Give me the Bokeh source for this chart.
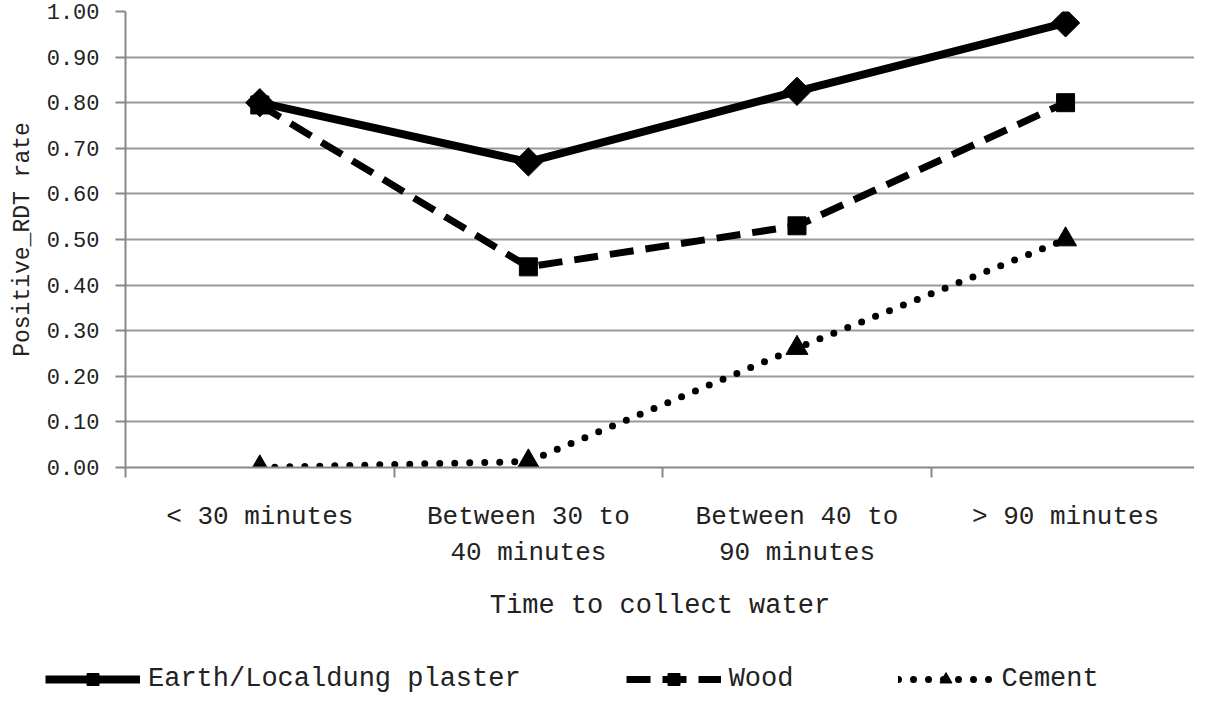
from bokeh.plotting import figure
from bokeh.models import Range1d, FixedTicker, Legend, LegendItem, NumeralTickFormatter
from bokeh.layouts import column
from bokeh.embed import file_html
from bokeh.resources import INLINE

categories = ["< 30 minutes", "Between 30 to\n40 minutes", "Between 40 to\n90 minutes", "> 90 minutes"]
earth = [0.80, 0.67, 0.825, 0.975]
wood = [0.795, 0.44, 0.53, 0.80]
cement = [0.00, 0.013, 0.262, 0.50]
series_names = ["Earth/Localdung plaster", "Wood", "Cement"]
y_ticks = [0.0, 0.1, 0.2, 0.3, 0.4, 0.5, 0.6, 0.7, 0.8, 0.9, 1.0]

FONT = "Liberation Mono"
xs = list(range(len(categories)))

W = 1194
H_MAIN = 636
H_LEG = 60
TOP = 11
LEFT = 125
BOTTOM = 169

p = figure(width=W, height=H_MAIN, output_backend="svg", toolbar_location=None,
           x_range=Range1d(-0.5, 3.48), y_range=Range1d(0, 1.0),
           min_border_top=TOP, min_border_left=LEFT, min_border_right=0,
           min_border_bottom=BOTTOM)
p.frame_align = False
p.outline_line_color = None
p.background_fill_color = "white"
p.border_fill_color = "white"

# grid
p.xgrid.grid_line_color = None
p.ygrid.grid_line_color = "#999999"
p.ygrid.grid_line_width = 2
p.ygrid.ticker = FixedTicker(ticks=y_ticks)

# y axis
p.yaxis.ticker = FixedTicker(ticks=y_ticks)
p.yaxis.formatter = NumeralTickFormatter(format="0.00")
p.yaxis.axis_line_color = "#888888"
p.yaxis.axis_line_width = 2
p.yaxis.major_tick_line_color = "#888888"
p.yaxis.major_tick_line_width = 2
p.yaxis.major_tick_out = 10
p.yaxis.major_tick_in = 0
p.yaxis.minor_tick_line_color = None
p.yaxis.major_label_text_font = FONT
p.yaxis.major_label_text_font_size = "22px"
p.yaxis.major_label_text_color = "#222222"
p.yaxis.major_label_standoff = 16
p.yaxis.axis_label = "Positive_RDT rate"
p.yaxis.axis_label_text_font = FONT
p.yaxis.axis_label_text_font_size = "23px"
p.yaxis.axis_label_text_font_style = "normal"
p.yaxis.axis_label_text_color = "#222222"
p.yaxis.axis_label_standoff = 8

# x axis
p.xaxis.ticker = FixedTicker(ticks=xs, minor_ticks=[-0.5, 0.5, 1.5, 2.5, 3.5])
p.xaxis.major_label_overrides = {i: c for i, c in zip(xs, categories)}
p.xaxis.axis_line_color = "#888888"
p.xaxis.axis_line_width = 2
p.xaxis.major_tick_line_color = None
p.xaxis.minor_tick_line_color = "#888888"
p.xaxis.minor_tick_line_width = 2
p.xaxis.minor_tick_out = 10
p.xaxis.minor_tick_in = 0
p.xaxis.major_label_text_font = FONT
p.xaxis.major_label_text_font_size = "26px"
p.xaxis.major_label_text_color = "#222222"
p.xaxis.major_label_standoff = 24
p.xaxis.axis_label = "Time to collect water"
p.xaxis.axis_label_text_font = FONT
p.xaxis.axis_label_text_font_size = "27px"
p.xaxis.axis_label_text_font_style = "normal"
p.xaxis.axis_label_text_color = "#222222"
p.xaxis.axis_label_standoff = 20

# series styles
styles = [
    dict(line=dict(line_color="black", line_width=8),
         marker=dict(marker="square", size=20, angle=0.785398, fill_color="black", line_color="black")),
    dict(line=dict(line_color="black", line_width=7, line_dash="24 12"),
         marker=dict(marker="square", size=18, fill_color="black", line_color="black")),
    dict(line=dict(line_color="black", line_width=7, line_dash="0 15", line_cap="round"),
         marker=dict(marker="triangle", size=22, fill_color="black", line_color="black")),
]
series = [earth, wood, cement]

for vals, st in zip(series, styles):
    p.line(xs, vals, **st["line"])
    p.scatter(xs, vals, **st["marker"])

# legend strip below the chart (its series renderers lie outside its visible range)
pl = figure(width=W, height=H_LEG, output_backend="svg", toolbar_location=None,
            x_range=Range1d(-0.5, 3.48), y_range=Range1d(5, 6),
            x_axis_location=None, y_axis_location=None, min_border=0)
pl.frame_align = False
pl.grid.visible = False
pl.outline_line_color = None
pl.background_fill_color = "white"
pl.border_fill_color = "white"

items = []
for name, vals, st in zip(series_names, series, styles):
    r1 = pl.line(xs, vals, **st["line"])
    r2 = pl.scatter(xs, vals, **st["marker"])
    items.append(LegendItem(label=name, renderers=[r1, r2]))

legend = Legend(items=items, orientation="horizontal", location=(45, 2))
legend.label_text_font = FONT
legend.label_text_font_size = "27px"
legend.label_text_color = "#222222"
legend.glyph_width = 95
legend.glyph_height = 30
legend.spacing = 105
legend.label_standoff = 8
legend.border_line_color = None
legend.background_fill_alpha = 0
legend.margin = 0
legend.padding = 2
pl.add_layout(legend, "center")

layout = column(p, pl, spacing=0)
open("out.html", "w").write(file_html(layout, INLINE))
